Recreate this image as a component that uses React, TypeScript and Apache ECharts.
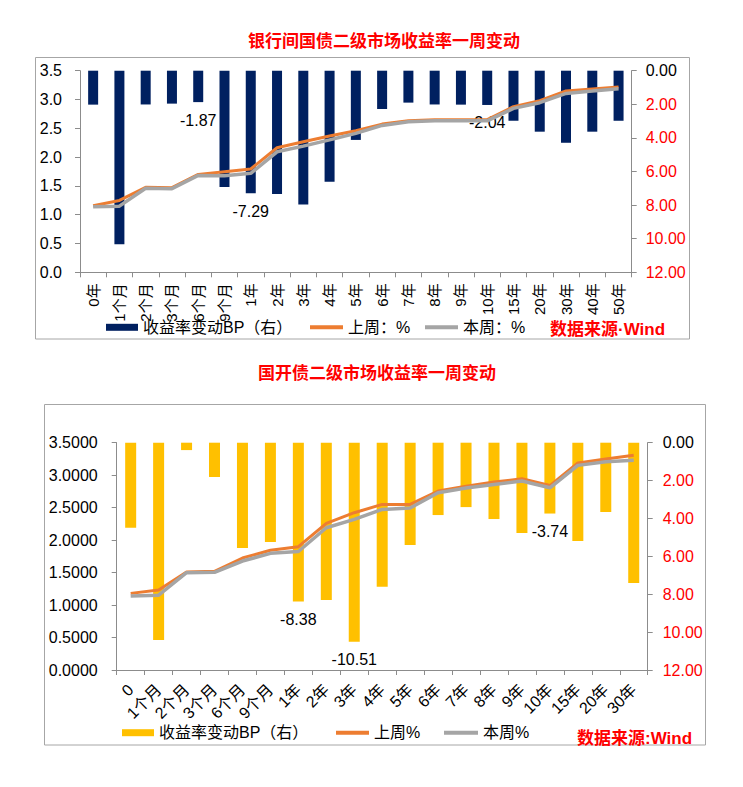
import React, { useEffect, useRef } from 'react';
import * as echarts from 'echarts';

const FONT = '"Liberation Sans", Arial, "Noto Sans CJK SC", sans-serif';

// ---- Chart 1: 银行间国债 ----
const title1 = '银行间国债二级市场收益率一周变动';
const cats1 = ['0年', '1个月', '2个月', '3个月', '6个月', '9个月', '1年', '2年', '3年', '4年', '5年', '6年', '7年', '8年', '9年', '10年', '15年', '20年', '30年', '40年', '50年'];
const bp1 = [-2.02, -10.33, -2.01, -1.96, -1.87, -6.92, -7.29, -7.34, -7.97, -6.61, -4.12, -2.28, -1.9, -2.01, -2.02, -2.04, -2.98, -3.63, -4.29, -3.63, -2.98];
const last1 = [1.156, 1.248, 1.475, 1.47, 1.7, 1.747, 1.793, 2.163, 2.267, 2.366, 2.458, 2.573, 2.63, 2.65, 2.65, 2.65, 2.875, 2.98, 3.147, 3.182, 3.217];
const this1 = [1.136, 1.148, 1.458, 1.452, 1.682, 1.677, 1.718, 2.092, 2.19, 2.299, 2.412, 2.55, 2.612, 2.63, 2.63, 2.63, 2.846, 2.945, 3.105, 3.146, 3.188];
const labeled1 = ['6个月', '1年', '10年'];
const legend1 = ['收益率变动BP（右）', '上周：%', '本周：%'];
const source1 = '数据来源·Wind';

// ---- Chart 2: 国开债 ----
const title2 = '国开债二级市场收益率一周变动';
const cats2 = ['0', '1个月', '2个月', '3个月', '6个月', '9个月', '1年', '2年', '3年', '4年', '5年', '6年', '7年', '8年', '9年', '10年', '15年', '20年', '30年'];
const bp2 = [-4.49, -10.42, -0.39, -1.81, -5.56, -5.24, -8.38, -8.31, -10.51, -7.6, -5.4, -3.82, -3.4, -4.03, -4.77, -3.74, -5.19, -3.66, -7.41];
const last2 = [1.18, 1.232, 1.509, 1.52, 1.724, 1.843, 1.899, 2.258, 2.422, 2.55, 2.55, 2.756, 2.828, 2.894, 2.945, 2.84, 3.187, 3.249, 3.306];
const this2 = [1.138, 1.152, 1.498, 1.504, 1.678, 1.796, 1.825, 2.19, 2.319, 2.473, 2.494, 2.73, 2.802, 2.858, 2.91, 2.806, 3.151, 3.207, 3.23];
const labeled2 = ['1年', '3年', '10年'];
const legend2 = ['收益率变动BP（右）', '上周%', '本周%'];
const source2 = '数据来源:Wind';

const NAVY = '#002060';
const YELLOW = '#FFC000';
const ORANGE = '#ED7D31';
const GRAY = '#A5A5A5';
const RED = '#FF0000';
const AXIS = '#8C8C8C';

function catAxis(gridIndex: number, data: string[], rotate: number, margin: number, fontSize: number) {
  return {
    type: 'category',
    gridIndex,
    data,
    boundaryGap: true,
    axisLine: { show: true, onZero: false, lineStyle: { color: AXIS, width: 1 } },
    axisTick: { show: true, interval: 0, alignWithLabel: false, length: 5, lineStyle: { color: AXIS } },
    axisLabel: { interval: 0, rotate, margin, color: '#000', fontSize, fontFamily: FONT },
    splitLine: { show: false },
  };
}

function leftAxis(gridIndex: number, decimals: number, margin: number) {
  return {
    type: 'value',
    gridIndex,
    position: 'left',
    min: 0,
    max: 3.5,
    interval: 0.5,
    axisLine: { show: true, lineStyle: { color: AXIS } },
    axisTick: { show: true, length: 5, lineStyle: { color: AXIS } },
    splitLine: { show: false },
    axisLabel: {
      formatter: (v: number) => Number(v).toFixed(decimals),
      color: '#000',
      fontSize: 16,
      margin,
      fontFamily: FONT,
    },
  };
}

function rightAxis(gridIndex: number, margin: number) {
  return {
    type: 'value',
    gridIndex,
    position: 'right',
    min: -12,
    max: 0,
    interval: 2,
    axisLine: { show: true, lineStyle: { color: AXIS } },
    axisTick: { show: true, length: 5, lineStyle: { color: AXIS } },
    splitLine: { show: false },
    axisLabel: {
      formatter: (v: number) => Math.abs(Number(v)).toFixed(2),
      color: (v: any) => (Number(v) === 0 ? '#000' : RED),
      fontSize: 16,
      margin,
      fontFamily: FONT,
    },
  };
}

function barSeries(name: string, xi: number, yi: number, cats: string[], vals: number[], labeled: string[], color: string, width: number) {
  return {
    type: 'bar',
    name,
    xAxisIndex: xi,
    yAxisIndex: yi,
    barWidth: width,
    itemStyle: { color },
    label: {
      show: false,
      position: 'bottom',
      distance: 10,
      color: '#000',
      fontSize: 16,
      fontFamily: FONT,
      formatter: (p: any) => Number(p.value).toFixed(2),
    },
    data: vals.map((v, i) => (labeled.indexOf(cats[i]) >= 0 ? { value: v, label: { show: true } } : { value: v })),
  };
}

function lineSeries(name: string, xi: number, yi: number, vals: number[], color: string, width: number) {
  return {
    type: 'line',
    name,
    xAxisIndex: xi,
    yAxisIndex: yi,
    data: vals,
    symbol: 'none',
    showSymbol: false,
    lineStyle: { color, width },
    itemStyle: { color },
  };
}

function legendItem(item: any, left: number, top: number, w: number, h: number) {
  return {
    data: [item],
    left,
    top,
    padding: 0,
    icon: 'rect',
    itemWidth: w,
    itemHeight: h,
    selectedMode: false,
    textStyle: { fontSize: 16, color: '#000', fontFamily: FONT },
  };
}

export default function App() {
  const ref = useRef<HTMLDivElement>(null);
  useEffect(() => {
    if (!ref.current) return;
    const chart = echarts.init(ref.current, undefined, { renderer: 'svg' });
    const option: any = {
      animation: false,
      backgroundColor: '#fff',
      textStyle: { fontFamily: FONT },
      title: [
        { text: title1, left: 248, top: 33, padding: 0, textStyle: { color: RED, fontSize: 17, fontWeight: 'bold', fontFamily: FONT } },
        { text: title2, left: 258, top: 364.5, padding: 0, textStyle: { color: RED, fontSize: 17, fontWeight: 'bold', fontFamily: FONT } },
      ],
      grid: [
        { left: 80, top: 70.7, width: 551.7, height: 201.6, containLabel: false, outerBoundsMode: 'none' },
        { left: 116.7, top: 442.7, width: 531, height: 227.3, containLabel: false, outerBoundsMode: 'none' },
      ],
      xAxis: [catAxis(0, cats1, 90, 11, 15), catAxis(1, cats2, 45, 17, 16)],
      yAxis: [leftAxis(0, 1, 18), rightAxis(0, 14), leftAxis(1, 4, 19), rightAxis(1, 15)],
      legend: [
        legendItem({ name: legend1[0], itemStyle: { color: NAVY } }, 106, 319.3, 32, 7),
        legendItem({ name: legend1[1] }, 310, 319.3, 33, 4),
        legendItem({ name: legend1[2] }, 425, 319.3, 33, 4),
        legendItem({ name: legend2[0], itemStyle: { color: YELLOW } }, 122, 724.7, 32, 7),
        legendItem({ name: legend2[1] }, 336, 724.7, 33, 4),
        legendItem({ name: legend2[2] }, 444, 724.7, 34, 4),
      ],
      series: [
        barSeries(legend1[0], 0, 1, cats1, bp1, labeled1, NAVY, 10),
        lineSeries(legend1[1], 0, 0, last1, ORANGE, 3),
        lineSeries(legend1[2], 0, 0, this1, GRAY, 3.5),
        barSeries(legend2[0], 1, 3, cats2, bp2, labeled2, YELLOW, 11),
        lineSeries(legend2[1], 1, 2, last2, ORANGE, 3),
        lineSeries(legend2[2], 1, 2, this2, GRAY, 3.5),
      ],
      graphic: [
        { type: 'rect', silent: true, z: -10, shape: { x: 35.5, y: 57.5, width: 654, height: 281.5 }, style: { fill: 'none', stroke: '#A6A6A6', lineWidth: 1 } },
        { type: 'rect', silent: true, z: -10, shape: { x: 44.5, y: 404.5, width: 661, height: 340.5 }, style: { fill: 'none', stroke: '#A6A6A6', lineWidth: 1 } },
        { type: 'text', silent: true, x: 550, y: 329, style: { text: source1, fill: RED, fontSize: 17, fontWeight: 'bold', fontFamily: FONT, verticalAlign: 'middle' } },
        { type: 'text', silent: true, x: 577, y: 738, style: { text: source2, fill: RED, fontSize: 17, fontWeight: 'bold', fontFamily: FONT, verticalAlign: 'middle' } },
      ],
    };
    chart.setOption(option);
    return () => chart.dispose();
  }, []);
  return <div ref={ref} style={{ position: 'absolute', left: 0, top: 0, width: 743, height: 787 }} />;
}
